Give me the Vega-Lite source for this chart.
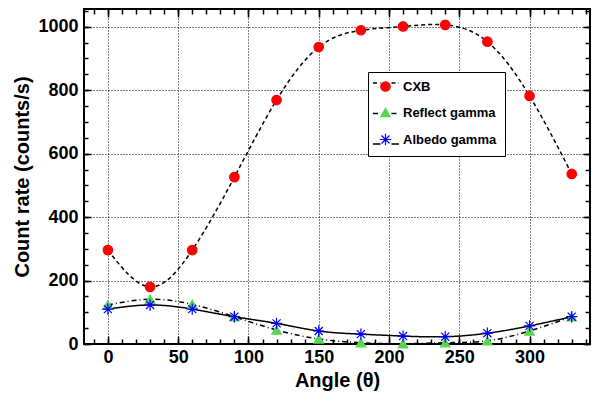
{
  "$schema": "https://vega.github.io/schema/vega-lite/v6.json",
  "width": 506,
  "height": 335,
  "autosize": "none",
  "padding": {"left": 84, "top": 9, "right": 9, "bottom": 56},
  "config": {
    "view": {"stroke": "black", "strokeWidth": 2},
    "font": "Liberation Sans",
    "axis": {
      "domain": false,
      "labelFont": "Liberation Sans",
      "labelFontSize": 18,
      "labelFontWeight": "bold",
      "labelColor": "black",
      "titleFont": "Liberation Sans",
      "titleFontSize": 20,
      "titleFontWeight": "bold",
      "titleColor": "black",
      "ticks": true,
      "tickColor": "black",
      "tickWidth": 1.5,
      "labelFlush": false,
      "labelOverlap": false
    }
  },
  "data": {
    "values": [
      {"series": "CXB", "angle": 0, "rate": 296},
      {"series": "CXB", "angle": 30, "rate": 180},
      {"series": "CXB", "angle": 60, "rate": 296},
      {"series": "CXB", "angle": 90, "rate": 526},
      {"series": "CXB", "angle": 120, "rate": 769},
      {"series": "CXB", "angle": 150, "rate": 936},
      {"series": "CXB", "angle": 180, "rate": 989},
      {"series": "CXB", "angle": 210, "rate": 1001},
      {"series": "CXB", "angle": 240, "rate": 1006},
      {"series": "CXB", "angle": 270, "rate": 953},
      {"series": "CXB", "angle": 300, "rate": 782},
      {"series": "CXB", "angle": 330, "rate": 536},
      {"series": "Reflect gamma", "angle": 0, "rate": 123},
      {"series": "Reflect gamma", "angle": 30, "rate": 141},
      {"series": "Reflect gamma", "angle": 60, "rate": 125},
      {"series": "Reflect gamma", "angle": 90, "rate": 86},
      {"series": "Reflect gamma", "angle": 120, "rate": 44},
      {"series": "Reflect gamma", "angle": 150, "rate": 16},
      {"series": "Reflect gamma", "angle": 180, "rate": 4},
      {"series": "Reflect gamma", "angle": 210, "rate": 1},
      {"series": "Reflect gamma", "angle": 240, "rate": 4},
      {"series": "Reflect gamma", "angle": 270, "rate": 10},
      {"series": "Reflect gamma", "angle": 300, "rate": 41},
      {"series": "Reflect gamma", "angle": 330, "rate": 86},
      {"series": "Albedo gamma", "angle": 0, "rate": 110},
      {"series": "Albedo gamma", "angle": 30, "rate": 123},
      {"series": "Albedo gamma", "angle": 60, "rate": 110},
      {"series": "Albedo gamma", "angle": 90, "rate": 86},
      {"series": "Albedo gamma", "angle": 120, "rate": 65},
      {"series": "Albedo gamma", "angle": 150, "rate": 41},
      {"series": "Albedo gamma", "angle": 180, "rate": 31},
      {"series": "Albedo gamma", "angle": 210, "rate": 25},
      {"series": "Albedo gamma", "angle": 240, "rate": 23},
      {"series": "Albedo gamma", "angle": 270, "rate": 34},
      {"series": "Albedo gamma", "angle": 300, "rate": 57},
      {"series": "Albedo gamma", "angle": 330, "rate": 86}
    ]
  },
  "layer": [
    {
      "mark": {"type": "line", "interpolate": "natural", "color": "black", "strokeWidth": 1.5},
      "encoding": {
        "x": {
          "field": "angle", "type": "quantitative",
          "scale": {"domain": [-17, 343], "nice": false, "zero": false},
          "axis": {
            "orient": "bottom",
            "values": [0, 50, 100, 150, 200, 250, 300],
            "title": "Angle (θ)",
            "tickSize": -8,
            "labelPadding": 12,
            "titlePadding": 4,
            "grid": true,
            "gridColor": "black",
            "gridDash": [1, 2],
            "gridWidth": 1
          }
        },
        "y": {
          "field": "rate", "type": "quantitative",
          "scale": {"domain": [0, 1056], "nice": false},
          "axis": {
            "orient": "left",
            "values": [0, 200, 400, 600, 800, 1000],
            "format": "d",
            "title": "Count rate (counts/s)",
            "tickSize": -7,
            "labelPadding": 13,
            "titlePadding": 5,
            "grid": true,
            "gridColor": "black",
            "gridDash": [1, 2],
            "gridWidth": 1
          }
        },
        "strokeDash": {
          "field": "series", "type": "nominal",
          "sort": ["CXB", "Reflect gamma", "Albedo gamma"],
          "scale": {"range": [[4, 3], [5, 3, 1, 3], [1, 0]]},
          "legend": {
            "orient": "none", "legendX": 288, "legendY": 60,
            "zindex": 2,
            "title": null,
            "symbolType": "M-1,0L-0.42,0M0.42,0L1,0",
            "symbolSize": 676,
            "symbolStrokeColor": "black",
            "symbolStrokeWidth": 1.5,
            "labelOpacity": 0,
            "labelExpr": "''",
            "labelFont": "Liberation Sans",
            "labelFontSize": 13,
            "labelFontWeight": "bold",
            "rowPadding": 9.5,
            "padding": 0,
            "labelOffset": 5
          }
        }
      }
    },
    {
      "mark": {"type": "point", "filled": true, "opacity": 1, "strokeWidth": 1.2, "size": 90},
      "encoding": {
        "x": {
          "field": "angle", "type": "quantitative",
          "axis": {
            "orient": "top",
            "values": [0, 50, 100, 150, 200, 250, 300],
            "title": null, "labels": false, "grid": false, "tickSize": -8
          }
        },
        "y": {
          "field": "rate", "type": "quantitative",
          "axis": {
            "orient": "right",
            "values": [0, 200, 400, 600, 800, 1000],
            "title": null, "labels": false, "grid": false, "tickSize": -7
          }
        },
        "fill": {
          "field": "series", "type": "nominal",
          "scale": {"domain": ["CXB", "Reflect gamma", "Albedo gamma"], "range": ["#ff0000", "#59d454", "#0000ff"]},
          "legend": {
            "orient": "none", "legendX": 284, "legendY": 63, "zindex": 1,
            "title": null, "padding": 8, "rowPadding": 11,
            "labelFont": "Liberation Sans", "labelFontSize": 13, "labelFontWeight": "bold", "labelColor": "black",
            "labelOffset": 11, "symbolOffset": 3, "fillColor": "white", "strokeColor": "black", "symbolStrokeWidth": 1.2, "symbolSize": 90
          }
        },
        "stroke": {
          "field": "series", "type": "nominal",
          "scale": {"domain": ["CXB", "Reflect gamma", "Albedo gamma"], "range": ["#ff0000", "#59d454", "#0000ff"]},
          "legend": {
            "orient": "none", "legendX": 284, "legendY": 63, "zindex": 1,
            "title": null, "padding": 8, "rowPadding": 11,
            "labelFont": "Liberation Sans", "labelFontSize": 13, "labelFontWeight": "bold", "labelColor": "black",
            "labelOffset": 11, "symbolOffset": 3, "fillColor": "white", "strokeColor": "black", "symbolStrokeWidth": 1.2, "symbolSize": 90
          }
        },
        "shape": {
          "field": "series", "type": "nominal",
          "scale": {"domain": ["CXB", "Reflect gamma", "Albedo gamma"], "range": ["circle", "triangle-up", "M-1.2,0L1.2,0M0,-1.2L0,1.2M-0.85,-0.85L0.85,0.85M-0.85,0.85L0.85,-0.85"]},
          "legend": {
            "orient": "none", "legendX": 284, "legendY": 63, "zindex": 1,
            "title": null, "padding": 8, "rowPadding": 11,
            "labelFont": "Liberation Sans", "labelFontSize": 13, "labelFontWeight": "bold", "labelColor": "black",
            "labelOffset": 11, "symbolOffset": 3, "fillColor": "white", "strokeColor": "black", "symbolStrokeWidth": 1.2, "symbolSize": 90
          }
        }
      }
    },
    {
      "mark": {"type": "point", "opacity": 0},
      "encoding": {
        "x": {
          "field": "angle", "type": "quantitative",
          "axis": {
            "orient": "bottom",
            "values": [-10, 0, 10, 20, 30, 40, 50, 60, 70, 80, 90, 100, 110, 120, 130, 140, 150, 160, 170, 180, 190, 200, 210, 220, 230, 240, 250, 260, 270, 280, 290, 300, 310, 320, 330, 340],
            "title": null, "labels": false, "grid": false, "tickSize": -5
          }
        },
        "y": {
          "field": "rate", "type": "quantitative",
          "axis": {
            "orient": "left",
            "values": [0, 50, 100, 150, 200, 250, 300, 350, 400, 450, 500, 550, 600, 650, 700, 750, 800, 850, 900, 950, 1000, 1050],
            "title": null, "labels": false, "grid": false, "tickSize": -4
          }
        }
      }
    },
    {
      "mark": {"type": "point", "opacity": 0},
      "encoding": {
        "x": {
          "field": "angle", "type": "quantitative",
          "axis": {
            "orient": "top",
            "values": [-10, 0, 10, 20, 30, 40, 50, 60, 70, 80, 90, 100, 110, 120, 130, 140, 150, 160, 170, 180, 190, 200, 210, 220, 230, 240, 250, 260, 270, 280, 290, 300, 310, 320, 330, 340],
            "title": null, "labels": false, "grid": false, "tickSize": -5
          }
        },
        "y": {
          "field": "rate", "type": "quantitative",
          "axis": {
            "orient": "right",
            "values": [0, 50, 100, 150, 200, 250, 300, 350, 400, 450, 500, 550, 600, 650, 700, 750, 800, 850, 900, 950, 1000, 1050],
            "title": null, "labels": false, "grid": false, "tickSize": -5
          }
        }
      }
    }
  ],
  "resolve": {"axis": {"x": "independent", "y": "independent"}}
}
